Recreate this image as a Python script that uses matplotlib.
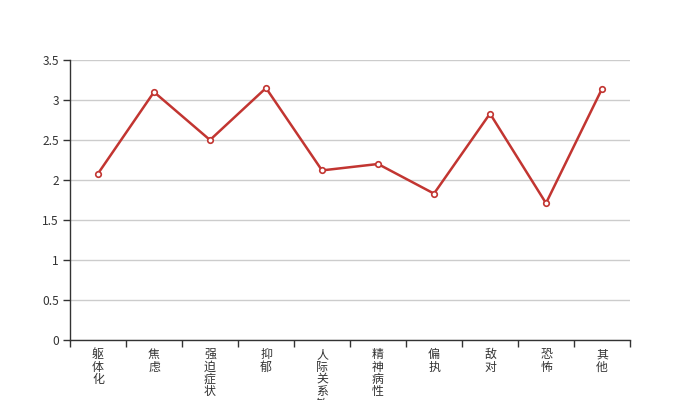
import matplotlib
matplotlib.use("Agg")
import matplotlib.pyplot as plt
from matplotlib.ticker import FixedLocator, FuncFormatter

plt.rcParams['font.family'] = ['Noto Sans CJK SC', 'DejaVu Sans']

categories = ['躯体化', '焦虑', '强迫症状', '抑郁', '人际关系敏感', '精神病性', '偏执', '敌对', '恐怖', '其他']
values = [2.08, 3.10, 2.50, 3.15, 2.12, 2.20, 1.83, 2.83, 1.71, 3.14]
y_ticks = [0, 0.5, 1, 1.5, 2, 2.5, 3, 3.5]

fig = plt.figure(figsize=(7, 4), dpi=100)
ax = fig.add_axes([0.1, 0.15, 0.8, 0.70])

x = list(range(len(categories)))
ax.plot(x, values, color='#c23531', linewidth=1.8, marker='o', markersize=4,
        markerfacecolor='white', markeredgecolor='#c23531', markeredgewidth=1.2, zorder=3)

ax.set_xlim(-0.5, len(categories) - 0.5)
ax.set_ylim(0, 3.5)

ax.yaxis.set_major_locator(FixedLocator(y_ticks))
ax.yaxis.set_major_formatter(FuncFormatter(lambda v, p: ('%g' % v)))
ax.grid(axis='y', color='#cccccc', linewidth=1)
ax.set_axisbelow(True)

ax.xaxis.set_major_locator(FixedLocator([i - 0.5 for i in range(len(categories) + 1)]))
ax.xaxis.set_major_formatter(FuncFormatter(lambda v, p: ''))
ax.xaxis.set_minor_locator(FixedLocator(x))
ax.set_xticklabels(['\n'.join(c) for c in categories], minor=True)
ax.tick_params(axis='x', which='minor', length=0, pad=6, labelsize=8.6, labelcolor='#333333')
for lbl in ax.get_xticklabels(minor=True):
    lbl.set_linespacing(0.93)
    lbl.set_verticalalignment('top')
ax.tick_params(axis='x', which='major', length=5, color='#333333', width=1)
ax.tick_params(axis='y', which='major', length=5, color='#333333', width=1,
               labelsize=8.6, labelcolor='#333333', pad=3)

for s in ['top', 'right']:
    ax.spines[s].set_visible(False)
for s in ['left', 'bottom']:
    ax.spines[s].set_color('#333333')
    ax.spines[s].set_linewidth(1)

fig.savefig('out.png', dpi=100)
